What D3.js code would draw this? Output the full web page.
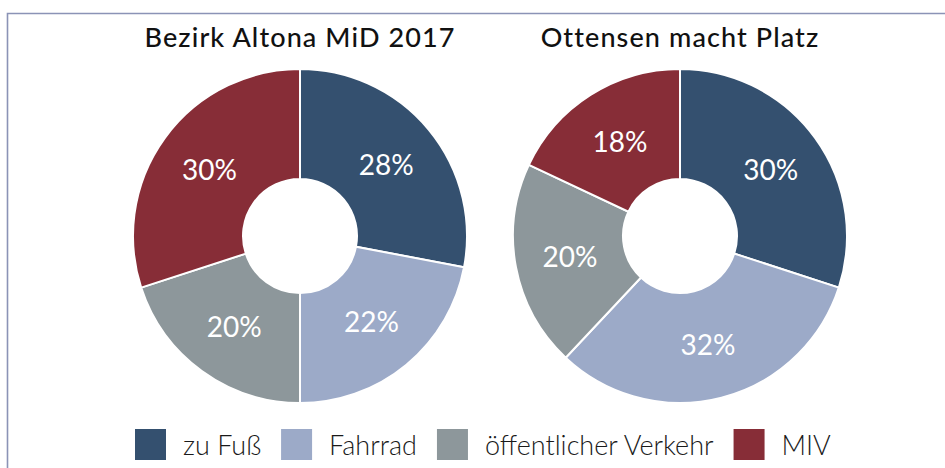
<!DOCTYPE html>
<html>
<head>
<meta charset="utf-8">
<script src="https://cdn.jsdelivr.net/npm/d3@7"></script>
<style>
    html, body { margin: 0; padding: 0; background: #fff; }
    svg { display: block; font-family: Lato, "Noto Sans", sans-serif; }
</style>
</head>
<body>
<div id="chart"></div>
<script>
// data
const categories = ['zu Fuß', 'Fahrrad', 'öffentlicher Verkehr', 'MIV'];
const altonaValues = [28, 22, 20, 30];
const ottensenValues = [30, 32, 20, 18];
const chartTitles = ['Bezirk Altona MiD 2017', 'Ottensen macht Platz'];
const palette = ['#34506f', '#9caac8', '#8d979b', '#872d37'];

const width = 945;
const height = 468;

const svg = d3
    .select('#chart')
    .append('svg')
    .attr('width', width)
    .attr('height', height)
    .attr('viewBox', [0, 0, width, height]);

// frame (left + top only)
svg.append('path')
    .attr('d', `M7.5,${ height } V13.5 H${ width }`)
    .attr('fill', 'none')
    .attr('stroke', '#8b93b6')
    .attr('stroke-width', 1.6);

const color = d3.scaleOrdinal().domain(categories).range(palette);

const outerR = 167;
const innerR = 57;
const centerY = 236;
const centerX = d3.scalePoint().domain(chartTitles).range([300, 680]);

const pie = d3.pie().sort(null).value((d) => d.value);
const arc = d3.arc().innerRadius(innerR).outerRadius(outerR);

const series = [altonaValues, ottensenValues];

chartTitles.forEach((title, i) => {
    const cx = centerX(title);
    const data = categories.map((c, j) => ({ cat: c, value: series[i][j] }));

    svg.append('text')
        .attr('x', cx)
        .attr('y', 47)
        .attr('text-anchor', 'middle')
        .style('font-size', '27px')
        .style('font-weight', 500)
        .style('letter-spacing', '1.1px')
        .style('fill', '#111')
        .text(title);

    const g = svg.append('g').attr('transform', `translate(${ cx },${ centerY })`);

    g.selectAll('path')
        .data(pie(data))
        .join('path')
        .attr('d', arc)
        .attr('fill', (d) => color(d.data.cat))
        .attr('stroke', '#fff')
        .attr('stroke-width', 2);

    g.selectAll('text')
        .data(pie(data))
        .join('text')
        .attr('transform', (d) => `translate(${ arc.centroid(d) })`)
        .attr('text-anchor', 'middle')
        .attr('dy', '0.36em')
        .style('font-size', '28px')
        .style('fill', '#fff')
        .text((d) => `${ d.data.value }%`);
});

// legend
const legend = svg.append('g').attr('class', 'legend');
let lx = 135;
const swatch = 31;
categories.forEach((c) => {
    legend.append('rect')
        .attr('x', lx)
        .attr('y', 429)
        .attr('width', swatch)
        .attr('height', swatch)
        .attr('fill', color(c));
    const t = legend.append('text')
        .attr('x', lx + swatch + 17)
        .attr('y', 455)
        .style('font-size', '27px')
        .style('font-weight', 300)
        .style('fill', '#1a1a1a')
        .text(c);
    const w = t.node().getComputedTextLength();
    lx += swatch + 17 + w + 20;
});
</script>
</body>
</html>
